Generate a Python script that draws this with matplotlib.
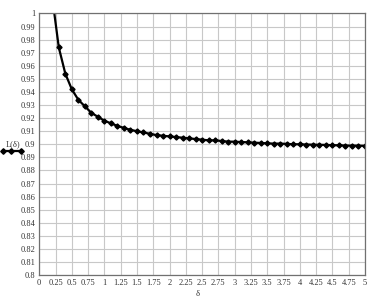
import numpy as np
import matplotlib
matplotlib.use("Agg")
import matplotlib.pyplot as plt
from matplotlib.lines import Line2D

# values (delta step 0.1)
delta = [0.2, 0.3, 0.4, 0.5, 0.6, 0.7, 0.8, 0.9, 1.0, 1.1, 1.2, 1.3, 1.4, 1.5,
         1.6, 1.7, 1.8, 1.9, 2.0, 2.1, 2.2, 2.3, 2.4, 2.5, 2.6, 2.7, 2.8, 2.9,
         3.0, 3.1, 3.2, 3.3, 3.4, 3.5, 3.6, 3.7, 3.8, 3.9, 4.0, 4.1, 4.2, 4.3,
         4.4, 4.5, 4.6, 4.7, 4.8, 4.9, 5.0]
L = [1.012, 0.974, 0.954, 0.942, 0.934, 0.929, 0.924, 0.921, 0.918, 0.916,
     0.914, 0.9125, 0.911, 0.910, 0.909, 0.908, 0.907, 0.9065, 0.906, 0.9055,
     0.905, 0.9045, 0.904, 0.9035, 0.903, 0.903, 0.9025, 0.902, 0.902, 0.9017,
     0.9015, 0.9012, 0.901, 0.9007, 0.9005, 0.9005, 0.9003, 0.900, 0.900,
     0.8998, 0.8997, 0.8996, 0.8995, 0.8993, 0.8992, 0.899, 0.899, 0.8989,
     0.8988]

xticks = np.arange(0, 5.001, 0.25)
xlabels = ['0', '0.25', '0.5', '0.75', '1', '1.25', '1.5', '1.75', '2', '2.25',
           '2.5', '2.75', '3', '3.25', '3.5', '3.75', '4', '4.25', '4.5', '4.75', '5']
yticks = np.arange(0.8, 1.0001, 0.01)
ylabels = ['0.8', '0.81', '0.82', '0.83', '0.84', '0.85', '0.86', '0.87', '0.88',
           '0.89', '0.9', '0.91', '0.92', '0.93', '0.94', '0.95', '0.96', '0.97',
           '0.98', '0.99', '1']

plt.rcParams['font.family'] = ['Liberation Serif', 'DejaVu Serif']

fig = plt.figure(figsize=(3.81, 3.05), dpi=100)
ax = fig.add_axes([0.103, 0.098, 0.855, 0.858])

ax.plot(delta, L, color='black', lw=1.6, marker='D', ms=2.6, clip_on=True)

ax.set_xlim(0, 5)
ax.set_ylim(0.8, 1.0)
ax.set_xticks(xticks)
ax.set_xticklabels(xlabels)
ax.set_yticks(yticks)
ax.set_yticklabels(ylabels)
ax.tick_params(length=0, labelsize=6, pad=3, colors='#333333')
ax.grid(True, color='#c8c8c8', lw=0.8)
ax.set_axisbelow(True)
for s in ax.spines.values():
    s.set_color('#707070')
    s.set_linewidth(0.9)

fig.text(0.52, 0.035, 'δ', fontsize=6, ha='center', va='center', color='#333333')
fig.text(0.016, 0.528, 'L(δ)', fontsize=6, ha='left', va='center', color='#333333')
fig.add_artist(Line2D([0.008, 0.030, 0.054], [0.506, 0.506, 0.506], color='black',
                      lw=1.6, marker='D', ms=2.8, transform=fig.transFigure))

fig.savefig('out.png', dpi=100)
